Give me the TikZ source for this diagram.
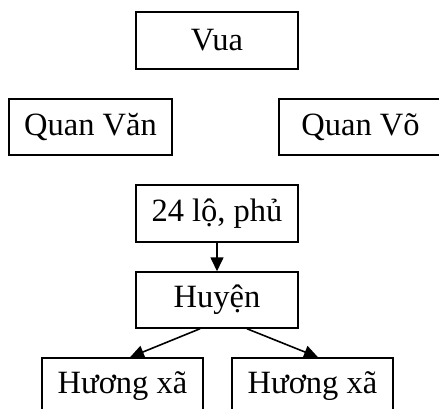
\documentclass[tikz,border=0pt]{standalone}
\usepackage{fontspec}
\setmainfont{Liberation Serif}
\usetikzlibrary{arrows.meta}
\begin{document}
\begin{tikzpicture}[x=1pt,y=-1pt,
  boxnode/.style={draw,line width=1.5pt,inner sep=0pt,font=\fontsize{32.5}{36}\selectfont},
  conn/.style={line width=1.6pt,-{Triangle[length=14pt,width=13pt]}}]
\useasboundingbox (0,0) rectangle (439,408);
\clip (0,0) rectangle (439,408);
\node[boxnode,minimum width=162pt,minimum height=57pt] (vua) at (217,40.5) {Vua};
\node[boxnode,minimum width=163pt,minimum height=56pt] (van) at (90.5,127) {Quan Văn};
\node[boxnode,minimum width=163pt,minimum height=56pt] (vo) at (360.5,127) {Quan Võ};
\node[boxnode,minimum width=162pt,minimum height=57pt] (lo) at (217,213.5) {24 lộ, phủ};
\node[boxnode,minimum width=162pt,minimum height=56pt] (huyen) at (217,300) {Huyện};
\node[boxnode,minimum width=161pt,minimum height=56pt] (hx1) at (122.5,386) {Hương xã};
\node[boxnode,minimum width=161pt,minimum height=56pt] (hx2) at (312.5,386) {Hương xã};
\draw[conn] (lo.south) -- (huyen.north);
\draw[conn] ([xshift=-17pt]huyen.south) -- ([xshift=7.5pt]hx1.north);
\draw[conn] ([xshift=30pt]huyen.south) -- ([xshift=5.5pt]hx2.north);
\end{tikzpicture}
\end{document}
